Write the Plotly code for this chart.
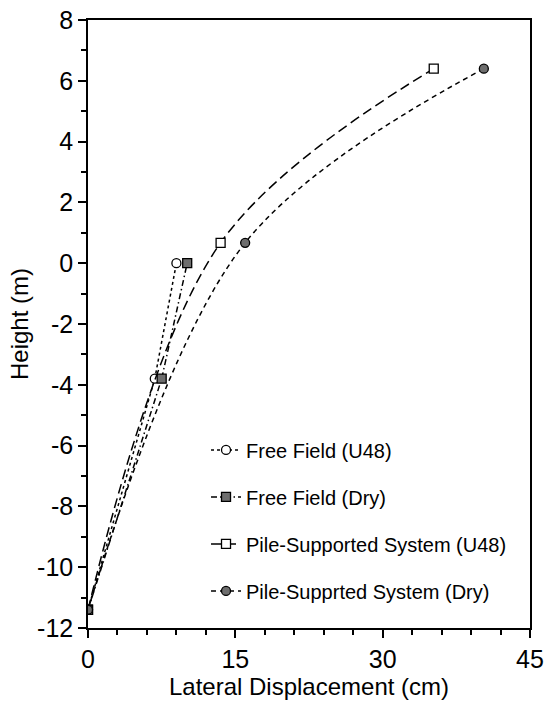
import plotly.graph_objects as go

ff_u48_x = [0, 6.8, 9.0]
ff_u48_y = [-11.4, -3.8, 0.0]
ff_dry_x = [0, 7.5, 10.1]
ff_dry_y = [-11.4, -3.8, 0.0]
ps_u48_x = [0, 13.5, 35.2]
ps_u48_y = [-11.4, 0.67, 6.4]
ps_dry_x = [0, 16.0, 40.3]
ps_dry_y = [-11.4, 0.67, 6.4]

names = ["Free Field (U48)", "Free Field (Dry)", "Pile-Supported System (U48)", "Pile-Supprted System (Dry)"]

x_tickvals = [0, 15, 30, 45]
x_ticktext = ["0", "15", "30", "45"]
y_tickvals = [-12, -10, -8, -6, -4, -2, 0, 2, 4, 6, 8]
y_ticktext = ["-12", "-10", "-8", "-6", "-4", "-2", "0", "2", "4", "6", "8"]

GRAY = "#6e6e6e"
fig = go.Figure()
fig.add_trace(go.Scatter(x=ff_u48_x, y=ff_u48_y, name=names[0], legendgroup="a",
    mode="lines+markers", line=dict(color="black", width=1.5, dash="3px,3px"),
    marker=dict(symbol="circle", size=9, color="white", line=dict(color="black", width=1.3))))
fig.add_trace(go.Scatter(x=ff_dry_x, y=ff_dry_y, name=names[1], legendgroup="b",
    mode="lines+markers", line=dict(color="black", width=1.5, dash="6px,3px,1.5px,3px"),
    marker=dict(symbol="square", size=9, color=GRAY, line=dict(color="black", width=1.3))))
fig.add_trace(go.Scatter(x=ps_u48_x, y=ps_u48_y, name=names[2], legendgroup="c",
    mode="lines+markers", line=dict(color="black", width=1.5, dash="10px,5px", shape="spline", smoothing=1.0),
    marker=dict(symbol="square", size=9, color="white", line=dict(color="black", width=1.3))))
fig.add_trace(go.Scatter(x=ps_dry_x, y=ps_dry_y, name=names[3], legendgroup="d",
    mode="lines+markers", line=dict(color="black", width=1.5, dash="5px,4px", shape="spline", smoothing=1.0),
    marker=dict(symbol="circle", size=9, color=GRAY, line=dict(color="black", width=1.3))))

fig.update_layout(
    width=546, height=704,
    margin=dict(l=88, r=16, t=20, b=76),
    paper_bgcolor="white", plot_bgcolor="white",
    font=dict(family="Liberation Sans, Arial, sans-serif", color="black"),
    legend=dict(x=0.267, y=0.325, xanchor="left", yanchor="top",
                traceorder="grouped", tracegroupgap=18, itemwidth=30,
                font=dict(size=20), bgcolor="rgba(0,0,0,0)"),
    xaxis=dict(range=[0, 45], tickvals=x_tickvals, ticktext=x_ticktext, ticks="outside", ticklen=8,
               tickwidth=1.5, tickcolor="black", showline=True, linecolor="black",
               linewidth=1.5, mirror=True, showgrid=False, zeroline=False, automargin=False,
               tickfont=dict(size=25),
               title=dict(text="Lateral Displacement (cm)", font=dict(size=24), standoff=4),
               minor=dict(dtick=3, ticks="outside", ticklen=5, tickwidth=1.5, tickcolor="black", showgrid=False)),
    yaxis=dict(range=[-12, 8], tickvals=y_tickvals, ticktext=y_ticktext, ticks="outside", ticklen=8,
               tickwidth=1.5, tickcolor="black", showline=True, linecolor="black",
               linewidth=1.5, mirror=True, showgrid=False, zeroline=False, automargin=False,
               tickfont=dict(size=25),
               title=dict(text="Height (m)", font=dict(size=24), standoff=2),
               minor=dict(dtick=1, ticks="outside", ticklen=5, tickwidth=1.5, tickcolor="black", showgrid=False)),
)

fig.write_html("out.html")
